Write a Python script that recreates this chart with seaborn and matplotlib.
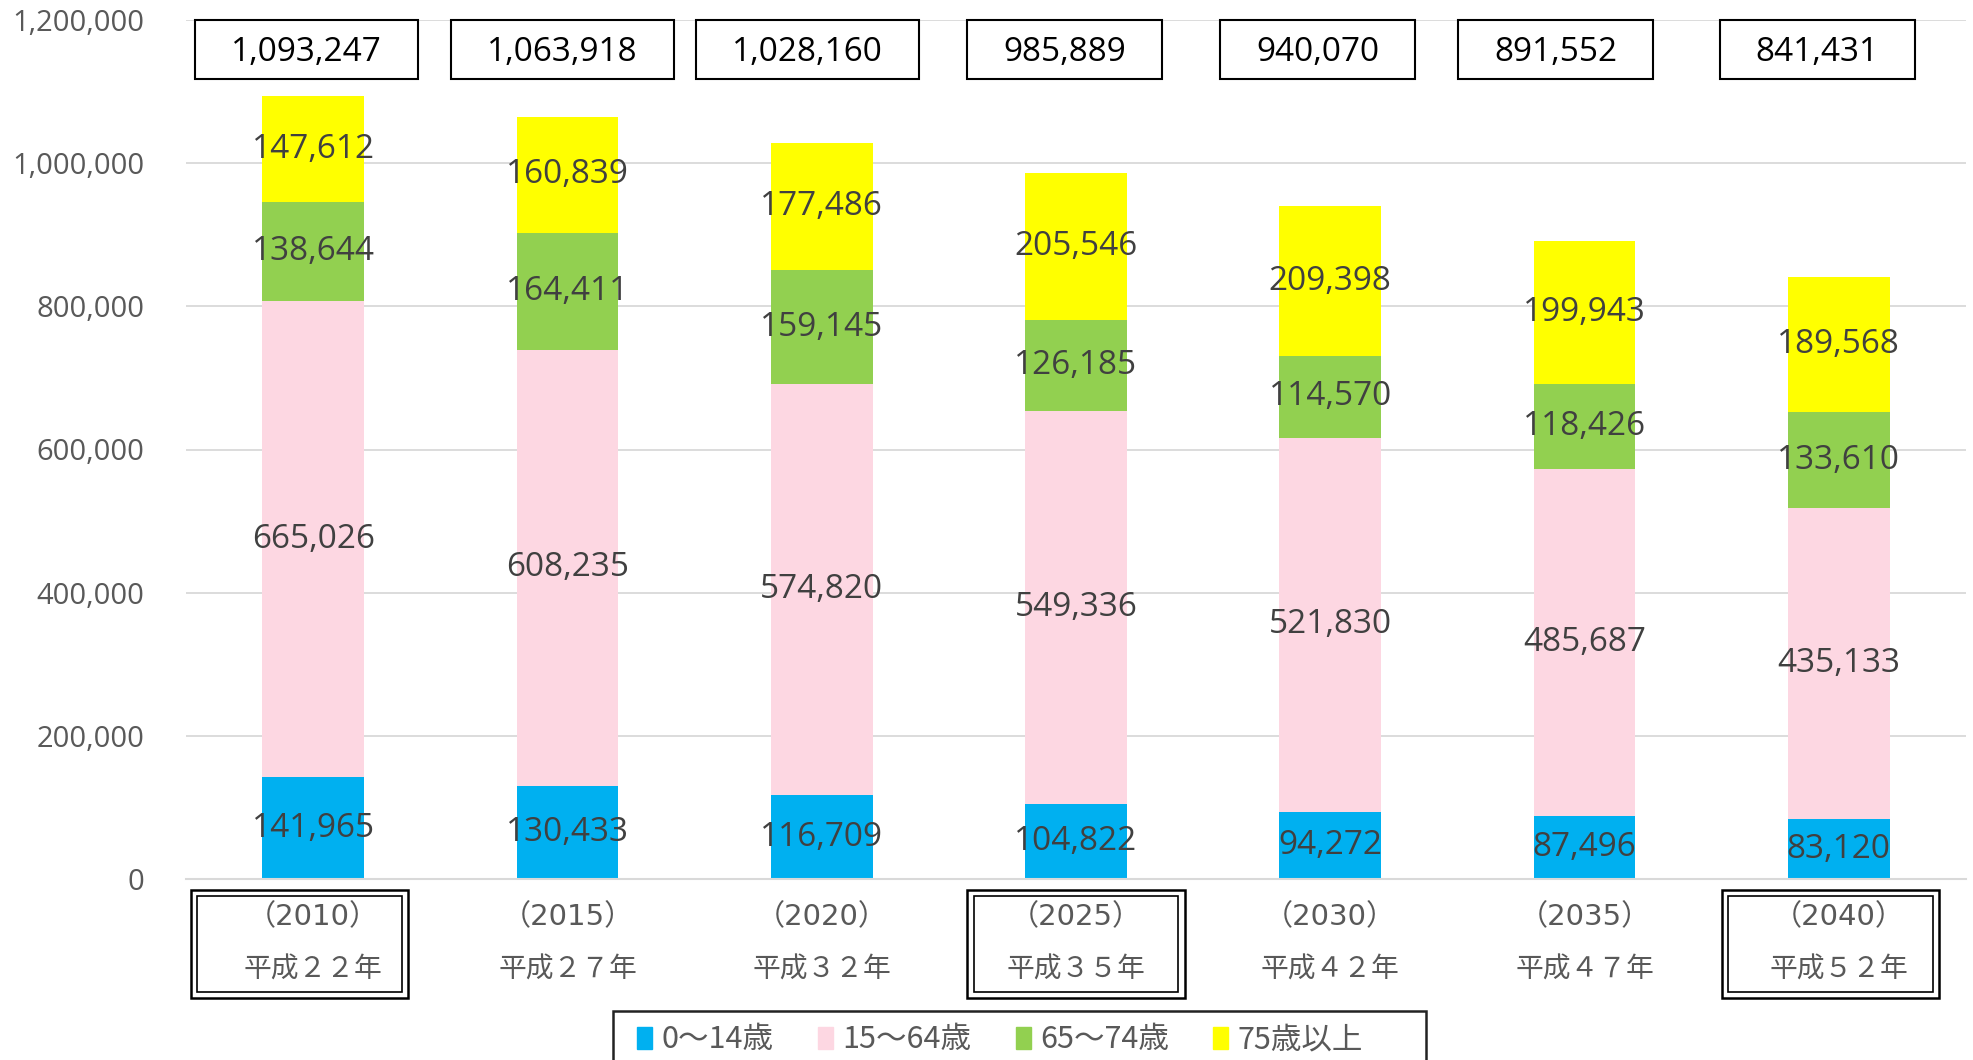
import numpy as np
import pandas as pd
import matplotlib.pyplot as plt
import matplotlib.patches as mpatches
import matplotlib.ticker as mticker
import seaborn as sns

# Data
years = ['2010', '2015', '2020', '2025', '2030', '2035', '2040']
heisei = ['平成２２年', '平成２７年', '平成３２年', '平成３５年', '平成４２年', '平成４７年', '平成５２年']
age_0_14 = [141965, 130433, 116709, 104822, 94272, 87496, 83120]
age_15_64 = [665026, 608235, 574820, 549336, 521830, 485687, 435133]
age_65_74 = [138644, 164411, 159145, 126185, 114570, 118426, 133610]
age_75_up = [147612, 160839, 177486, 205546, 209398, 199943, 189568]
totals = [1093247, 1063918, 1028160, 985889, 940070, 891552, 841431]
series_names = ['0～14歳', '15～64歳', '65～74歳', '75歳以上']
highlight = [0, 3, 6]

colors = ['#00b0f0', '#fdd7e2', '#92d050', '#ffff00']

sns.set_theme(style='white')
plt.rcParams['font.family'] = ['Noto Sans CJK JP', 'DejaVu Sans']
NUM_FONT = ['Open Sans', 'Noto Sans CJK JP']
YEAR_FONT = ['DejaVu Sans', 'Noto Sans CJK JP']

df = pd.DataFrame({'year': years, 'a': age_0_14, 'b': age_15_64,
                   'c': age_65_74, 'd': age_75_up})
cols = ['a', 'b', 'c', 'd']
cum = df[cols].cumsum(axis=1)

fig = plt.figure(figsize=(19.74, 10.6), dpi=100)
ax = fig.add_axes([186 / 1974, 1 - 879 / 1060, (1966 - 186) / 1974, (879 - 20) / 1060])

# layered stacked bars (top series first)
for k in range(3, -1, -1):
    sns.barplot(x=df['year'], y=cum[cols[k]], color=colors[k], saturation=1,
                width=0.4, linewidth=0, ax=ax, errorbar=None, order=years)

# segment labels at segment middles
for k in range(4):
    lower = cum[cols[k]] - df[cols[k]]
    for i in range(len(years)):
        ax.text(i, lower[i] + df[cols[k]][i] / 2, f"{df[cols[k]][i]:,}",
                ha='center', va='center', fontsize=24, color='#404040', family=NUM_FONT)

ax.set_ylim(0, 1200000)
ax.set_xlim(-0.5, 6.5)
ax.yaxis.set_major_locator(mticker.MultipleLocator(200000))
ax.yaxis.set_major_formatter(mticker.FuncFormatter(lambda v, p: f"{int(v):,}"))
ax.tick_params(axis='y', length=0, pad=30, labelsize=21, labelcolor='#595959')
for lab in ax.get_yticklabels():
    lab.set_family(NUM_FONT)
ax.yaxis.grid(True, color='#d9d9d9', linewidth=1.3)
ax.set_axisbelow(True)
for s in ['left', 'right', 'top']:
    ax.spines[s].set_visible(False)
ax.spines['bottom'].set_color('#d9d9d9')
ax.spines['bottom'].set_linewidth(1.5)
ax.set_xlabel('')
ax.set_ylabel('')

# category separators below the axis
ax.set_xticks(range(len(years)))
ax.set_xticklabels([])
ax.tick_params(axis='x', which='major', length=0)
ax.set_xticks(np.arange(-0.5, len(years), 1.0), minor=True)
ax.tick_params(axis='x', which='minor', length=78, width=1.3, color='#d9d9d9', direction='out')

xt = ax.get_xaxis_transform()
for i in range(len(years)):
    ax.text(i, -0.044, f"（{years[i]}）", transform=xt, ha='center', va='center',
            fontsize=21, color='#595959', family=YEAR_FONT)
    ax.text(i, -0.106, heisei[i], transform=xt, ha='center', va='center',
            fontsize=20, color='#595959')

# double-line boxes around highlighted categories
box_shift = {0: -0.055, 3: 0.0, 6: -0.034}
for i in highlight:
    c = i + box_shift[i]
    ax.add_patch(mpatches.Rectangle((c - 0.427, -0.1385), 0.854, 0.1257, transform=xt,
                                    fill=False, edgecolor='black', linewidth=1.8, clip_on=False))
    ax.add_patch(mpatches.Rectangle((c - 0.403, -0.1315), 0.806, 0.1117, transform=xt,
                                    fill=False, edgecolor='black', linewidth=1.2, clip_on=False))

# total boxes on top
total_shift = [-0.025, -0.02, -0.055, -0.045, -0.05, -0.114, -0.085]
tot_texts = []
for i in range(len(years)):
    t = ax.text(i + total_shift[i], 0.962, f"{totals[i]:,}", transform=xt, ha='center',
                va='center', fontsize=24, color='black', family=NUM_FONT)
    tot_texts.append(t)

fig.canvas.draw()
renderer = fig.canvas.get_renderer()
W, H = fig.bbox.width, fig.bbox.height
for t in tot_texts:
    bb = t.get_window_extent(renderer)
    x0 = (bb.x0 - 36) / W
    w = (bb.width + 72) / W
    y0 = 1 - 79 / 1060
    h = 59 / 1060
    fig.patches.append(mpatches.Rectangle((x0, y0), w, h, transform=fig.transFigure,
                                          fill=False, edgecolor='black', linewidth=1.5))

# legend
handles = [mpatches.Patch(color=colors[k], label=series_names[k]) for k in range(4)]
fig.legend(handles=handles, loc='center left', bbox_to_anchor=(637 / 1974, 1 - 1040 / 1060),
           ncol=4, frameon=False, fontsize=22, handlelength=0.5, handleheight=0.7,
           handletextpad=0.3, columnspacing=1.45, borderpad=0, borderaxespad=0,
           labelcolor='#595959')
fig.patches.append(mpatches.Rectangle((613 / 1974, -0.05), (1426 - 613) / 1974,
                                      0.05 + 1 - 1011 / 1060, transform=fig.transFigure,
                                      fill=False, edgecolor='#222222', linewidth=1.8))

fig.savefig('out.png', dpi=100)
